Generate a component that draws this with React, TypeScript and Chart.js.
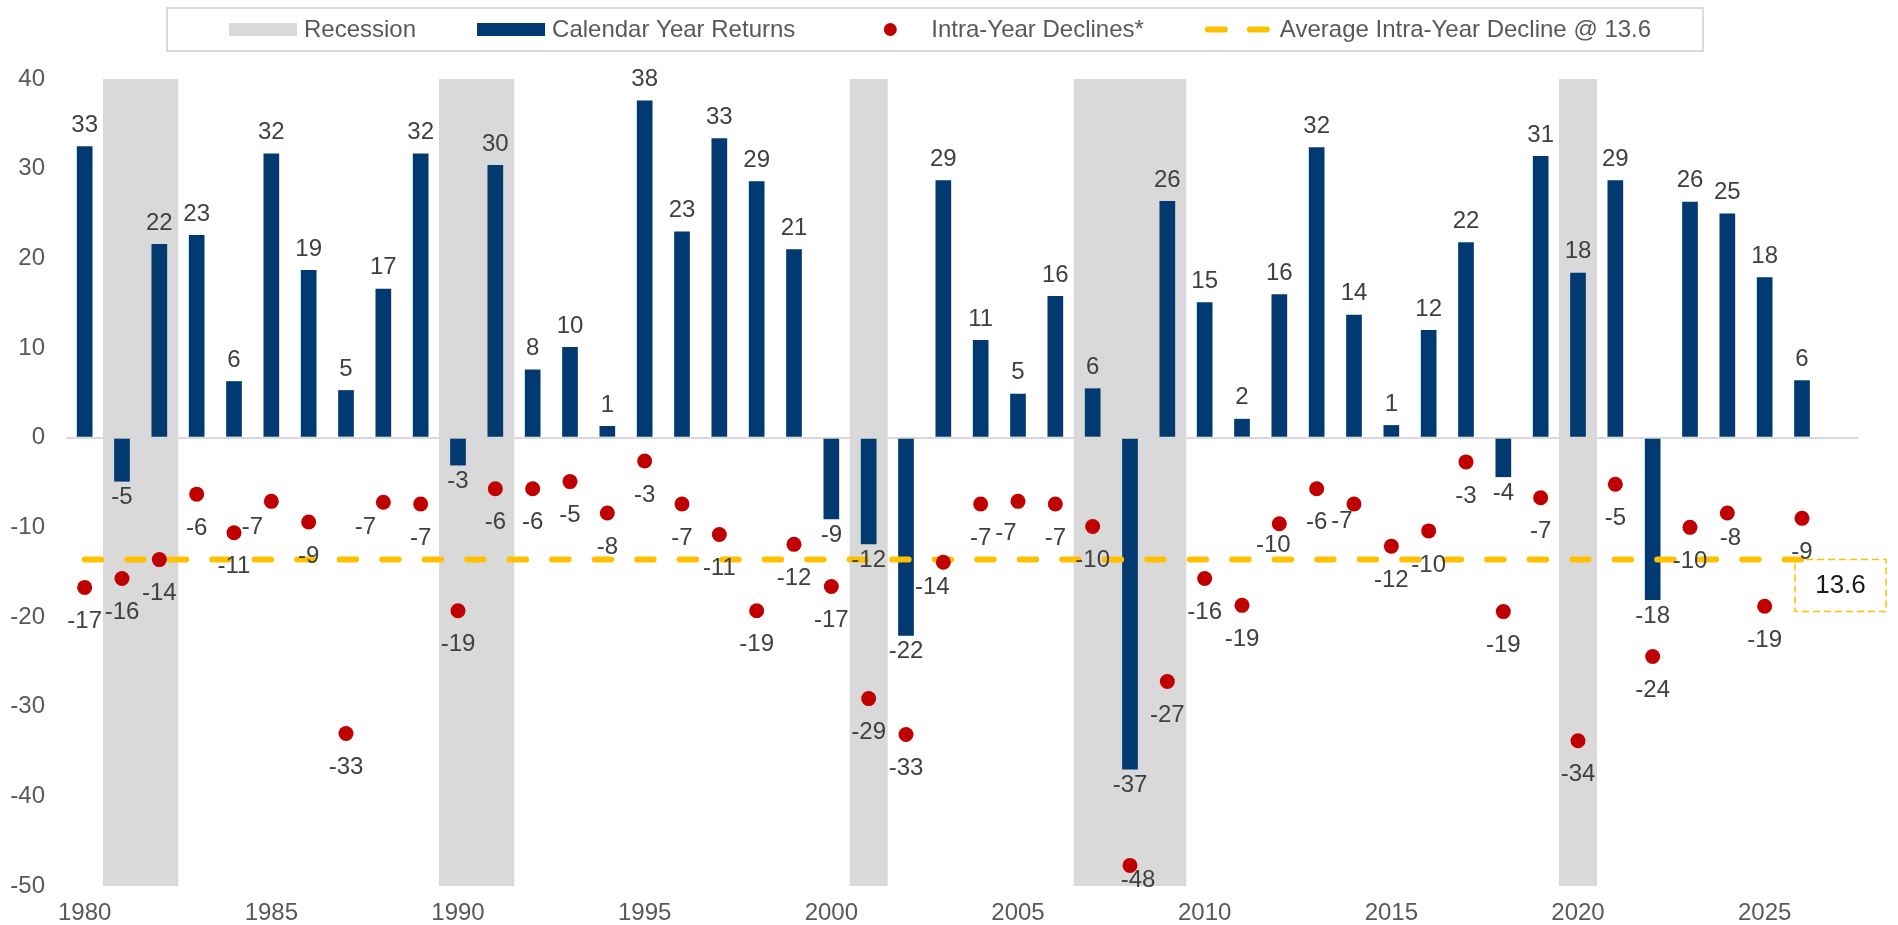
import React, { useEffect, useRef } from 'react';
import { Chart, registerables } from 'chart.js';

Chart.register(...registerables);

// ---- Data ----
const years = [
  1980, 1981, 1982, 1983, 1984, 1985, 1986, 1987, 1988, 1989,
  1990, 1991, 1992, 1993, 1994, 1995, 1996, 1997, 1998, 1999,
  2000, 2001, 2002, 2003, 2004, 2005, 2006, 2007, 2008, 2009,
  2010, 2011, 2012, 2013, 2014, 2015, 2016, 2017, 2018, 2019,
  2020, 2021, 2022, 2023, 2024, 2025, 2026,
];

const calendarReturns = [
  32.5, -4.9, 21.6, 22.6, 6.3, 31.7, 18.7, 5.3, 16.6, 31.7,
  -3.1, 30.4, 7.6, 10.1, 1.3, 37.6, 23.0, 33.4, 28.6, 21.0,
  -9.1, -11.9, -22.1, 28.7, 10.9, 4.9, 15.8, 5.5, -37.0, 26.4,
  15.1, 2.1, 16.0, 32.4, 13.7, 1.4, 12.0, 21.8, -4.4, 31.4,
  18.4, 28.7, -18.1, 26.3, 25.0, 17.9, 6.4,
];

const intraYearDeclines = [
  -16.7, -15.7, -13.6, -6.3, -10.6, -7.1, -9.4, -33.0, -7.2, -7.4,
  -19.3, -5.7, -5.7, -4.9, -8.4, -2.6, -7.4, -10.8, -19.3, -11.9,
  -16.6, -29.1, -33.1, -13.9, -7.4, -7.1, -7.4, -9.9, -47.7, -27.2,
  -15.7, -18.7, -9.6, -5.7, -7.4, -12.1, -10.4, -2.7, -19.4, -6.7,
  -33.8, -5.2, -24.4, -10.0, -8.4, -18.8, -9.0,
];

const recessionYears = [1981, 1982, 1990, 1991, 2001, 2007, 2008, 2009, 2020];

const averageDecline = 13.6;

const yTicks = { min: -50, max: 40, step: 10 };

// ---- Styles ----
const FONT_FAMILY = '"Liberation Sans", Arial, Helvetica, sans-serif';
const NAVY = '#003A70';
const RED = '#C00000';
const GOLD = '#FFC000';
const GRAY = '#D9D9D9';
const AXIS_TEXT = '#595959';
const LABEL_TEXT = '#404040';

// label nudges for the intra-year decline labels (dx, dy from point centre)
const DEFAULT_DECLINE_NUDGE: [number, number] = [0, 34];
const declineLabelNudge: Record<number, [number, number]> = {
  1985: [-19, 26],
  1988: [-18, 25],
  2003: [-11, 25],
  2005: [-12, 32],
  2008: [8, 15],
  2012: [-6, 22],
  2014: [-12, 17],
  2024: [3, 25],
};

const fmt = (v: number) => String(Math.sign(v) * Math.round(Math.abs(v)));

const categoryLabels: (number | string)[] = [...years, ''];

const valueLabelPlugin = {
  id: 'valueLabels',
  afterDatasetsDraw(chart: any) {
    const ctx = chart.ctx;
    ctx.save();
    ctx.font = `24px ${FONT_FAMILY}`;
    ctx.fillStyle = LABEL_TEXT;
    ctx.textAlign = 'center';
    ctx.textBaseline = 'middle';
    const barMeta = chart.getDatasetMeta(1);
    barMeta.data.forEach((el: any, i: number) => {
      const v = calendarReturns[i];
      if (v == null) return;
      const { x, y } = el.getProps(['x', 'y'], true);
      ctx.fillText(fmt(v), x, v >= 0 ? y - 21 : y + 16);
    });
    const dotMeta = chart.getDatasetMeta(3);
    dotMeta.data.forEach((el: any, i: number) => {
      const v = intraYearDeclines[i];
      if (v == null) return;
      const { x, y } = el.getProps(['x', 'y'], true);
      const [dx, dy] = declineLabelNudge[years[i]] || DEFAULT_DECLINE_NUDGE;
      ctx.fillText(fmt(v), x + dx, y + dy);
    });

    // average call-out box
    const xs = chart.scales.x;
    const ys = chart.scales.y;
    const bx = xs.getPixelForValue(years.length - 1) - 7;
    const by = ys.getPixelForValue(-averageDecline);
    const bw = 91;
    const bh = 52;
    ctx.strokeStyle = GOLD;
    ctx.lineWidth = 1.5;
    ctx.setLineDash([7, 4]);
    ctx.strokeRect(bx, by, bw, bh);
    ctx.setLineDash([]);
    ctx.fillStyle = '#1A1A1A';
    ctx.font = `26px ${FONT_FAMILY}`;
    ctx.fillText(averageDecline.toFixed(1), bx + bw / 2, by + bh / 2);
    ctx.restore();
  },
};

const legendPlugin = {
  id: 'customLegend',
  afterDraw(chart: any) {
    const ctx = chart.ctx;
    ctx.save();
    ctx.font = `24px ${FONT_FAMILY}`;
    const items = [
      { text: 'Recession', kind: 'rect', color: GRAY },
      { text: 'Calendar Year Returns', kind: 'rect', color: NAVY },
      { text: 'Intra-Year Declines*', kind: 'dot', color: RED },
      { text: `Average Intra-Year Decline @ ${averageDecline}`, kind: 'dash', color: GOLD },
    ];
    const boxLeft = 167;
    const boxTop = 8;
    const boxH = 43;
    const cy = boxTop + boxH / 2;
    const swatchW = 68;
    let x = boxLeft + 62;
    ctx.textBaseline = 'middle';
    ctx.textAlign = 'left';
    items.forEach((it) => {
      if (it.kind === 'rect') {
        ctx.fillStyle = it.color;
        ctx.fillRect(x, cy - 6.5, swatchW, 13);
      } else if (it.kind === 'dot') {
        ctx.fillStyle = it.color;
        ctx.beginPath();
        ctx.arc(x + swatchW / 2, cy, 6.5, 0, Math.PI * 2);
        ctx.fill();
      } else {
        ctx.strokeStyle = it.color;
        ctx.lineWidth = 6;
        ctx.lineCap = 'round';
        ctx.setLineDash([17, 25]);
        ctx.beginPath();
        ctx.moveTo(x + 3, cy);
        ctx.lineTo(x + 65, cy);
        ctx.stroke();
        ctx.setLineDash([]);
      }
      x += swatchW + 7;
      ctx.fillStyle = AXIS_TEXT;
      ctx.fillText(it.text, x, cy + 1);
      x += ctx.measureText(it.text).width + 61;
    });
    const boxRight = x - 61 + 52;
    ctx.strokeStyle = GRAY;
    ctx.lineWidth = 2;
    ctx.strokeRect(boxLeft, boxTop, boxRight - boxLeft, boxH);
    ctx.restore();
  },
};

export default function App() {
  const canvasRef = useRef<HTMLCanvasElement | null>(null);

  useEffect(() => {
    if (!canvasRef.current) return;
    Chart.defaults.font.family = FONT_FAMILY;
    const chart = new Chart(canvasRef.current, {
      type: 'bar',
      data: {
        labels: categoryLabels as any,
        datasets: [
          {
            type: 'bar',
            label: 'Recession',
            data: years.map((y) => (recessionYears.includes(y) ? [yTicks.min, yTicks.max] : null)) as any,
            backgroundColor: GRAY,
            borderWidth: 0,
            barPercentage: 1,
            categoryPercentage: 1,
            grouped: false,
            order: 4,
          } as any,
          {
            type: 'bar',
            label: 'Calendar Year Returns',
            data: calendarReturns,
            backgroundColor: NAVY,
            borderWidth: 0,
            barPercentage: 0.42,
            categoryPercentage: 1,
            grouped: false,
            order: 3,
          } as any,
          {
            type: 'line',
            label: `Average Intra-Year Decline @ ${averageDecline}`,
            data: years.map(() => -averageDecline),
            borderColor: GOLD,
            borderWidth: 6,
            borderDash: [16.5, 26],
            borderCapStyle: 'round',
            pointRadius: 0,
            fill: false,
            order: 2,
          } as any,
          {
            type: 'line',
            label: 'Intra-Year Declines*',
            data: intraYearDeclines,
            showLine: false,
            pointRadius: 7.5,
            pointBackgroundColor: RED,
            pointBorderColor: RED,
            pointBorderWidth: 0,
            order: 1,
          } as any,
        ],
      },
      options: {
        responsive: false,
        animation: false,
        events: [],
        layout: { padding: { left: 0, right: 40, top: 79, bottom: 0 } },
        plugins: {
          legend: { display: false },
          tooltip: { enabled: false },
          title: { display: false },
        },
        scales: {
          x: {
            type: 'category',
            offset: true,
            border: { display: false },
            grid: { display: false, drawTicks: false },
            afterFit: (scale: any) => {
              scale.height = 39;
            },
            ticks: {
              autoSkip: false,
              maxRotation: 0,
              minRotation: 0,
              padding: 15,
              color: AXIS_TEXT,
              font: { size: 24, lineHeight: 1 },
              callback: (_v: any, idx: number) => {
                const y = categoryLabels[idx];
                return typeof y === 'number' && y % 5 === 0 ? String(y) : '';
              },
            },
          },
          y: {
            min: yTicks.min,
            max: yTicks.max,
            border: { display: false },
            afterFit: (scale: any) => {
              scale.width = 66;
            },
            grid: {
              drawTicks: false,
              lineWidth: 2,
              color: (c: any) => (c.tick && c.tick.value === 0 ? GRAY : 'rgba(0,0,0,0)'),
            },
            ticks: {
              stepSize: yTicks.step,
              padding: 21,
              color: AXIS_TEXT,
              font: { size: 24, lineHeight: 1 },
            },
          },
        },
      },
      plugins: [valueLabelPlugin, legendPlugin],
    });
    return () => chart.destroy();
  }, []);

  return (
    <div style={{ position: 'fixed', left: 0, top: 0, width: 1898, height: 925, background: '#fff' }}>
      <canvas ref={canvasRef} width={1898} height={925} style={{ display: 'block' }} />
    </div>
  );
}
